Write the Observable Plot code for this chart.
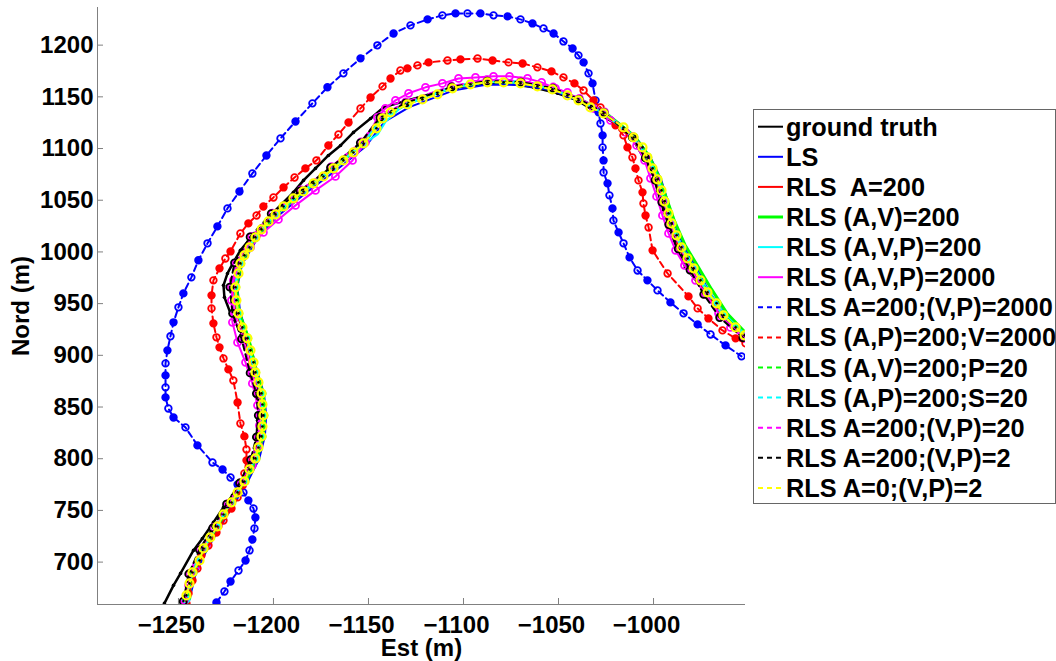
<!DOCTYPE html>
<html>
<head>
<meta charset="utf-8">
<script src="https://cdn.jsdelivr.net/npm/d3@7"></script>
<script src="https://cdn.jsdelivr.net/npm/@observablehq/plot@0.6"></script>
<style>
  html, body { margin: 0; padding: 0; background: #fff; }
  #wrap { position: relative; width: 1056px; height: 661px; overflow: hidden; }
  #legend { position: absolute; left: 753px; top: 109px; }
</style>
</head>
<body>
<div id="wrap"><div id="chart"></div><div id="legend"></div></div>
<script>
// ---------- data ----------
const xTicks = [-1250, -1200, -1150, -1100, -1050, -1000];
const yTicks = [700, 750, 800, 850, 900, 950, 1000, 1050, 1100, 1150, 1200];
const xDomain = [-1292.6, -951.6];
const yDomain = [659, 1236.4];

const legendNames = [
  "ground truth", "LS", "RLS  A=200", "RLS (A,V)=200", "RLS (A,V,P)=200", "RLS (A,V,P)=2000",
  "RLS A=200;(V,P)=2000", "RLS (A,P)=200;V=2000", "RLS (A,V)=200;P=20", "RLS (A,P)=200;S=20",
  "RLS A=200;(V,P)=20", "RLS A=200;(V,P)=2", "RLS A=0;(V,P)=2"
];

const groundTruth = [[-1257.4,660.1],[-1252.6,677.5],[-1248.9,689.1],[-1242.1,711.3],[-1237.4,722.9],[-1231.6,738.4],[-1226.3,752.9],[-1221.6,764.5],[-1217.4,777.1],[-1213.2,788.7],[-1210.5,801.3],[-1208.9,817.7],[-1208.4,837.0],[-1207.9,849.6],[-1208.4,871.0],[-1210.5,892.2],[-1213.2,907.7],[-1218.0,925.0],[-1222.6,940.6],[-1225.8,956.1],[-1226.3,967.7],[-1224.2,979.2],[-1221.1,989.9],[-1217.4,1001.5],[-1212.1,1013.2],[-1206.8,1023.7],[-1201.6,1035.3],[-1195.3,1046.9],[-1189.5,1057.6],[-1184.2,1069.2],[-1177.9,1080.8],[-1171.1,1093.3],[-1164.7,1103.0],[-1157.9,1115.6],[-1148.9,1129.1],[-1142.1,1139.8],[-1129.5,1146.6],[-1115.8,1153.4],[-1103.2,1159.2],[-1087.4,1163.0],[-1076.8,1163.0],[-1063.2,1159.2],[-1050.5,1153.4],[-1040.0,1146.6],[-1031.6,1136.9],[-1021.1,1125.2],[-1017.4,1120.4],[-1010.5,1107.8],[-1005.3,1091.4],[-1000.5,1075.9],[-997.9,1059.5],[-994.7,1040.2],[-991.1,1020.9],[-987.4,1001.5],[-983.2,985.1],[-976.8,970.5],[-971.1,956.1],[-964.7,943.5],[-957.9,931.0],[-951.6,920.3]];

const lsSolid = [[-1244.5,662],[-1241,688],[-1235,712],[-1228,734],[-1220.5,757],[-1213.5,778],[-1207.5,800],[-1204.5,822],[-1203.8,842],[-1205,863],[-1208.5,884],[-1213,916],[-1217.5,941],[-1219,966],[-1216.5,988],[-1208.5,1013],[-1197.5,1035],[-1183,1057],[-1167,1079],[-1151.5,1102],[-1141.5,1126],[-1128.5,1140],[-1105.5,1156],[-1087.5,1162],[-1070,1161.5],[-1053,1156],[-1039,1146],[-1025,1133],[-1009,1110],[-1001.5,1091],[-996,1070],[-992.5,1049],[-989,1028],[-984,1005],[-977.5,985],[-970.5,961],[-962,939],[-951.6,920]];

const rlsA = [[-1246.5,662],[-1243,689],[-1237.5,712],[-1230,734],[-1223,757],[-1216,778],[-1210,800],[-1207,822],[-1206,842],[-1207,863],[-1210.5,884],[-1214.5,916],[-1219.5,941],[-1221,966],[-1218.5,989],[-1210.5,1014],[-1199.5,1036],[-1185,1058],[-1169,1081],[-1153.5,1105],[-1143,1130],[-1129,1144],[-1105.5,1159.5],[-1087,1165],[-1069.5,1164],[-1053,1158],[-1039.5,1147.5],[-1026.5,1135],[-1011,1111],[-1004,1091],[-998.5,1070],[-995,1049],[-991.5,1027],[-986.5,1003],[-980,983],[-972.5,960],[-964,938],[-952,918.5]];

const rlsAV = [[-1245,664],[-1242,690],[-1236,713],[-1229,735],[-1221.5,758],[-1214.5,778.5],[-1208.5,800.5],[-1205.5,822],[-1204.5,842],[-1205.5,863],[-1209,883.5],[-1213,916],[-1218,941],[-1219.5,966],[-1217,989.5],[-1209,1015],[-1198.5,1037],[-1183.5,1059.5],[-1167.5,1082],[-1152,1106],[-1142,1131],[-1129,1144],[-1105.5,1159.5],[-1087.5,1165],[-1070,1164.5],[-1053,1158.5],[-1039,1148],[-1025.5,1135],[-1010,1112],[-1002.5,1093],[-997,1072],[-993,1051],[-989,1030],[-983.5,1007],[-977,987],[-969.5,964],[-961.5,941],[-951.6,922]];

const rlsAVP200 = [[-1246,663],[-1243,690],[-1237,713],[-1230,735],[-1222.5,758],[-1215.5,778],[-1209.5,800],[-1206.5,822],[-1205.5,842],[-1206.5,863],[-1210,883.5],[-1214,916],[-1219,941],[-1220.5,966],[-1218,989],[-1210,1014],[-1199.5,1036],[-1184.5,1058.5],[-1168.5,1081],[-1153,1104],[-1145,1114],[-1141,1126],[-1131,1143],[-1106,1160],[-1087.5,1166],[-1070,1165],[-1053,1159],[-1039.5,1148.5],[-1026,1135.5],[-1010.5,1112],[-1003,1092.5],[-997.5,1071],[-994,1050],[-990.5,1028.5],[-985,1005],[-978.5,985],[-971,962],[-962.5,939.5],[-951.6,920]];

const rlsAVP2000 = [[-1246.8,660.1],[-1244.7,677.5],[-1240.5,696.9],[-1235.3,716.1],[-1228.9,735.5],[-1222.6,754.9],[-1216.3,774.2],[-1211.1,793.6],[-1207.9,812.9],[-1207.4,832.2],[-1208.4,851.6],[-1211.1,872.8],[-1214.7,893.2],[-1218.9,912.5],[-1221.6,931.9],[-1222.1,953.2],[-1221.1,972.5],[-1217.4,989.9],[-1212.1,1004.4],[-1205.3,1018.9],[-1197.4,1031.4],[-1188.4,1045.0],[-1177.9,1059.5],[-1167.4,1073.0],[-1158.4,1088.5],[-1151.6,1105.9],[-1145.3,1130.1],[-1141.1,1138.8],[-1135.8,1146.6],[-1128.9,1153.4],[-1120.0,1159.2],[-1111.1,1163.0],[-1102.6,1167.8],[-1093.7,1168.8],[-1084.2,1169.8],[-1075.8,1169.8],[-1066.3,1167.8],[-1058.9,1164.0],[-1051.6,1158.2],[-1045.3,1154.3],[-1039.5,1147.5],[-1031.6,1138.8],[-1022.6,1127.2],[-1014.7,1115.6],[-1008.9,1103.0],[-1004.7,1088.5],[-1001.6,1071.2],[-998.4,1053.7],[-995.3,1035.3],[-992.1,1017.9],[-988.4,1001.5],[-983.7,987.0],[-977.9,972.5],[-972.6,959.0],[-965.8,940.6],[-959.5,927.0],[-952.1,916.4]];

const blueDash = [[-1230.0,661.0],[-1225.8,671.6],[-1222.6,681.3],[-1218.4,691.9],[-1214.7,701.6],[-1212.6,711.3],[-1211.1,721.9],[-1210.0,732.6],[-1209.5,743.2],[-1210.5,751.9],[-1213.2,759.7],[-1215.8,767.4],[-1218.9,775.1],[-1222.6,781.9],[-1226.8,789.6],[-1232.1,796.4],[-1240.0,812.9],[-1246.3,830.3],[-1252.6,839.9],[-1255.3,848.6],[-1256.8,859.3],[-1256.8,869.0],[-1256.8,880.6],[-1256.8,892.2],[-1255.8,904.8],[-1254.2,918.4],[-1252.6,931.9],[-1250.0,946.4],[-1247.4,959.9],[-1243.2,975.4],[-1239.5,991.9],[-1234.7,1008.3],[-1229.5,1024.7],[-1224.2,1042.1],[-1217.9,1058.5],[-1211.1,1075.9],[-1203.7,1093.3],[-1196.3,1109.8],[-1188.4,1126.2],[-1179.5,1143.7],[-1171.6,1159.2],[-1163.2,1172.7],[-1154.2,1187.2],[-1145.3,1199.8],[-1136.8,1211.3],[-1127.9,1219.1],[-1118.9,1224.9],[-1111.1,1228.8],[-1104.2,1230.7],[-1097.9,1230.7],[-1091.1,1230.7],[-1084.2,1228.8],[-1076.8,1227.8],[-1070.0,1224.9],[-1063.7,1221.0],[-1057.9,1216.2],[-1052.6,1211.3],[-1047.4,1203.6],[-1042.6,1196.8],[-1039.5,1190.1],[-1036.8,1183.3],[-1034.2,1172.7],[-1032.1,1163.0],[-1030.5,1146.6],[-1028.9,1135.0],[-1027.9,1124.3],[-1026.8,1112.7],[-1026.8,1101.1],[-1026.3,1088.5],[-1026.3,1076.9],[-1024.2,1066.3],[-1023.2,1054.7],[-1021.6,1042.1],[-1021.1,1030.5],[-1018.4,1018.9],[-1015.8,1008.3],[-1012.6,994.7],[-1008.4,982.1],[-1003.2,972.5],[-997.9,962.8],[-991.1,951.2],[-984.2,940.6],[-976.8,929.9],[-970.0,920.2],[-962.1,909.6],[-953.7,899.0]];

const redDash = [[-1245.8,660.1],[-1244.7,669.7],[-1242.6,682.3],[-1240.0,693.9],[-1237.9,706.5],[-1234.2,716.1],[-1230.0,728.7],[-1226.3,740.3],[-1222.1,751.9],[-1218.9,762.6],[-1216.3,774.2],[-1215.3,785.8],[-1214.2,798.4],[-1214.2,809.0],[-1215.3,821.6],[-1217.4,834.1],[-1218.9,854.4],[-1221.1,875.7],[-1223.7,886.4],[-1226.3,897.0],[-1228.4,907.7],[-1230.0,917.4],[-1231.6,930.9],[-1232.6,945.4],[-1232.6,958.0],[-1231.6,972.5],[-1228.4,984.1],[-1225.3,993.7],[-1222.6,1000.5],[-1217.4,1017.9],[-1213.2,1027.6],[-1208.9,1035.3],[-1205.3,1044.0],[-1200.0,1052.7],[-1194.7,1062.4],[-1188.9,1072.0],[-1183.2,1080.8],[-1177.4,1088.5],[-1171.1,1103.0],[-1165.8,1113.6],[-1160.5,1125.2],[-1154.2,1138.8],[-1148.9,1149.4],[-1142.6,1160.1],[-1138.4,1167.8],[-1133.2,1175.5],[-1129.5,1177.5],[-1124.2,1180.4],[-1118.4,1183.3],[-1108.4,1185.2],[-1101.6,1186.2],[-1092.6,1187.1],[-1084.7,1185.2],[-1076.3,1183.3],[-1068.9,1182.3],[-1061.1,1178.5],[-1053.7,1174.6],[-1047.4,1168.8],[-1041.6,1163.0],[-1036.8,1156.2],[-1031.6,1146.6],[-1027.9,1139.8],[-1020.0,1122.4],[-1015.8,1112.7],[-1013.7,1101.1],[-1011.1,1091.4],[-1009.5,1080.8],[-1007.9,1069.2],[-1005.8,1057.6],[-1005.3,1046.9],[-1004.2,1035.3],[-1002.6,1023.7],[-1000.5,1001.5],[-992.6,979.2],[-981.6,957.0],[-976.8,945.4],[-971.1,935.7],[-963.7,924.1],[-956.8,916.4],[-951.6,911.6]];

const greenDash = [[-1245.5,666],[-1242.3,690],[-1236.5,713],[-1229.3,734.5],[-1222,757.5],[-1215,778],[-1209.2,800],[-1206,821.5],[-1205,842],[-1206,863],[-1209.3,883.5],[-1213.5,916.5],[-1218.2,940.5],[-1219.8,966],[-1217.2,989],[-1209.3,1014],[-1198.7,1036.5],[-1184,1058.5],[-1168.2,1081],[-1152.5,1105],[-1142.5,1129.5],[-1129.3,1143],[-1105.7,1158.5],[-1087.3,1164.3],[-1070,1163.3],[-1053.2,1157.5],[-1039.3,1147],[-1026,1134.3],[-1010.3,1111],[-1003,1091.6],[-997.7,1070.5],[-994,1049.2],[-990.3,1028],[-985,1004.7],[-978.6,984.5],[-971.3,961.2],[-963,939],[-952,919.6]];

const cyanDash = [[-1246,664],[-1242.8,689.5],[-1237,712.8],[-1229.8,734.2],[-1222.4,757.4],[-1215.6,777.8],[-1209.8,800.2],[-1206.6,821.5],[-1205.6,842],[-1206.6,863.2],[-1209.8,883.6],[-1214,916.3],[-1218.7,940.5],[-1220.3,965.7],[-1217.7,988.8],[-1209.8,1014],[-1199.2,1036.2],[-1184.5,1058.4],[-1168.7,1080.7],[-1152.9,1104.8],[-1143,1129],[-1129.8,1142.6],[-1106,1158.4],[-1087.5,1164.4],[-1070,1163.5],[-1053.3,1157.6],[-1039.6,1147],[-1026.4,1134.4],[-1010.7,1110.9],[-1003.4,1091.5],[-998.1,1070.2],[-994.4,1048.8],[-990.7,1027.5],[-985.5,1004.2],[-979.1,983.9],[-971.8,960.7],[-963.4,938.4],[-952.2,919]];

const magentaDash = [[-1247,663],[-1244,689],[-1238.5,712.5],[-1231.5,733.5],[-1224,756.5],[-1217,777],[-1211.5,799.5],[-1208.3,821],[-1207.3,842],[-1208.3,863],[-1211.5,883],[-1216,916],[-1220.6,940.5],[-1222.2,966],[-1219.6,989.5],[-1211.5,1015],[-1200.5,1037.5],[-1185.5,1060],[-1169.5,1082.5],[-1153.8,1106.5],[-1143.8,1131],[-1130.5,1145],[-1106.5,1160.5],[-1087.7,1166.5],[-1069.8,1165.5],[-1052.8,1159.5],[-1039,1148.5],[-1025.8,1135.5],[-1010.8,1111.5],[-1004,1091.5],[-998.8,1070],[-995.2,1048.5],[-991.5,1027],[-986.5,1003.5],[-980.2,983],[-973,959.5],[-964.6,937],[-952.5,917.5]];

const blackDash = [[-1247.5,662],[-1244.6,688.5],[-1239,712],[-1232,733],[-1224.7,756],[-1217.8,776.5],[-1212,799],[-1209,821],[-1208,842],[-1209,863],[-1212.3,883],[-1216.8,916],[-1221.5,940.5],[-1223,966],[-1220.5,989.5],[-1212.3,1014.5],[-1201.2,1037],[-1186,1059],[-1170,1081.5],[-1154.3,1105.5],[-1144,1130],[-1130.5,1144],[-1106.2,1159.5],[-1087.5,1165.2],[-1069.8,1164.2],[-1052.9,1158.3],[-1039.2,1147.6],[-1026,1134.8],[-1011.2,1110.8],[-1004.3,1091],[-999.2,1069.5],[-995.6,1048],[-992,1026.5],[-987,1003],[-980.8,982.5],[-973.6,959],[-965.2,936.5],[-953,917]];

const yellowDash = [[-1245.8,667.8],[-1244.2,679.4],[-1242.6,690.0],[-1238.9,701.6],[-1236.8,713.2],[-1233.2,723.9],[-1229.5,734.5],[-1226.3,746.1],[-1222.1,757.7],[-1218.9,767.4],[-1215.3,778.0],[-1212.6,789.6],[-1209.5,800.3],[-1207.9,810.9],[-1206.3,821.6],[-1205.8,831.2],[-1205.3,841.9],[-1205.8,852.5],[-1206.3,863.2],[-1207.9,873.8],[-1209.5,883.5],[-1210.5,893.2],[-1212.1,904.8],[-1213.7,916.4],[-1216.3,927.0],[-1218.4,940.6],[-1219.5,953.2],[-1220.0,965.8],[-1218.4,979.2],[-1217.4,988.9],[-1215.3,996.7],[-1212.6,1004.4],[-1209.5,1014.1],[-1206.3,1021.8],[-1202.6,1029.5],[-1198.9,1036.3],[-1194.7,1044.0],[-1189.5,1051.8],[-1184.2,1058.5],[-1178.9,1066.3],[-1173.7,1073.0],[-1168.4,1080.8],[-1163.2,1088.5],[-1157.9,1096.2],[-1152.6,1104.9],[-1145.8,1119.5],[-1142.6,1129.1],[-1138.4,1134.9],[-1129.5,1142.7],[-1121.6,1147.5],[-1113.7,1152.4],[-1105.8,1158.2],[-1096.3,1162.1],[-1087.4,1164.0],[-1078.9,1164.0],[-1070.0,1163.0],[-1061.1,1160.1],[-1053.2,1157.2],[-1045.3,1151.4],[-1039.5,1146.6],[-1033.2,1139.8],[-1026.3,1134.0],[-1015.8,1120.4],[-1010.5,1110.7],[-1005.8,1101.1],[-1003.2,1091.4],[-1000.5,1080.8],[-997.9,1070.2],[-995.8,1059.5],[-994.2,1048.9],[-992.1,1037.3],[-990.5,1027.6],[-987.9,1016.1],[-985.3,1004.4],[-982.1,993.7],[-978.9,984.1],[-975.3,972.5],[-971.6,960.9],[-966.8,950.3],[-963.2,938.7],[-956.8,927.0],[-952.1,919.3]];

// ---------- styling table (built from the arrays above) ----------
const seriesDefs = [
  {pts: groundTruth, color: "#000000", dash: null, width: 2.5, marker: "dot"},
  {pts: lsSolid,     color: "#0000ff", dash: null, width: 2,   marker: null},
  {pts: rlsA,        color: "#ff0000", dash: null, width: 2,   marker: null},
  {pts: rlsAV,       color: "#00ff00", dash: null, width: 3,   marker: null},
  {pts: rlsAVP200,   color: "#00ffff", dash: null, width: 2,   marker: null},
  {pts: rlsAVP2000,  color: "#ff00ff", dash: null, width: 2,   marker: "ring"},
  {pts: blueDash,    color: "#0000ff", dash: "6,4", width: 2,  marker: "mixed"},
  {pts: redDash,     color: "#ff0000", dash: "6,4", width: 2,  marker: "mixed"},
  {pts: greenDash,   color: "#00ff00", dash: "6,4", width: 2,  marker: "ring"},
  {pts: cyanDash,    color: "#00ffff", dash: "6,4", width: 2,  marker: "ring"},
  {pts: magentaDash, color: "#ff00ff", dash: "6,4", width: 2,  marker: "ring"},
  {pts: blackDash,   color: "#000000", dash: "6,4", width: 2,  marker: "ring"},
  {pts: yellowDash,  color: "#ffff00", dash: "6,4", width: 2,  marker: "yellow"}
];

const FONT = "'Liberation Sans', Arial, Helvetica, sans-serif";
const W = 1056, H = 661;
const mL = 97, mR = 311, mT = 7, mB = 57;
const innerW = W - mL - mR, innerH = H - mT - mB;
const axisGray = "#808080";

const marks = [
  Plot.ruleX([xDomain[0]], {stroke: axisGray, strokeWidth: 1}),
  Plot.ruleY([yDomain[0]], {stroke: axisGray, strokeWidth: 1}),
  Plot.tickX(xTicks, {x: d => d, stroke: axisGray, insetTop: innerH - 6}),
  Plot.tickY(yTicks, {y: d => d, stroke: axisGray, insetRight: innerW - 6}),
  Plot.axisX({ticks: xTicks, tickSize: 0, tickPadding: 11, dx: -7, tickFormat: d => (d < 0 ? "\u2212" : "") + Math.abs(d),
    label: null, fill: "#000"}),
  Plot.axisY({ticks: yTicks, tickSize: 0, tickPadding: 4, tickFormat: d => String(d),
    label: "Nord (m)", labelAnchor: "center", labelArrow: "none", labelOffset: 86, fill: "#000"}),
  Plot.text(["Est (m)"], {text: d => d, frameAnchor: "bottom", lineAnchor: "bottom", dy: 51,
    fontSize: 24, fontWeight: "bold", fill: "#000"})
];

seriesDefs.forEach(s => {
  const rows = s.pts.map(([x, y], i) => ({x, y, i}));
  marks.push(Plot.line(rows, {x: "x", y: "y", stroke: s.color, strokeWidth: s.width,
    strokeDasharray: s.dash || undefined, clip: true, strokeLinejoin: "round"}));
  if (s.marker === "dot") {
    marks.push(Plot.dot(rows, {x: "x", y: "y", r: 1.8, fill: s.color, stroke: null, clip: true}));
  } else if (s.marker === "ring") {
    marks.push(Plot.dot(rows, {x: "x", y: "y", r: 3.5, fill: "none", stroke: s.color, strokeWidth: 1.8, clip: true}));
  } else if (s.marker === "mixed") {
    marks.push(Plot.dot(rows, {x: "x", y: "y", r: 3.3, fill: d => d.i % 2 === 0 ? s.color : "none",
      stroke: s.color, strokeWidth: 1.8, clip: true}));
  } else if (s.marker === "yellow") {
    marks.push(Plot.dot(rows, {x: "x", y: "y", r: 4, fill: "none", stroke: s.color, strokeWidth: 2.2, clip: true}));
    marks.push(Plot.dot(rows, {x: "x", y: "y", r: 1.3, fill: "#000", stroke: null, clip: true}));
  }
});

const chart = Plot.plot({
  width: W, height: H,
  marginLeft: mL, marginRight: mR, marginTop: mT, marginBottom: mB,
  x: {domain: xDomain},
  y: {domain: yDomain},
  style: {fontFamily: FONT, fontSize: "24px", fontWeight: "bold", background: "#fff", color: "#000", overflow: "visible"},
  marks
});
document.getElementById("chart").appendChild(chart);

// ---------- legend ----------
const lgW = 302, lgH = 394, rowH = 30.1, row0 = 17.7;
const lg = d3.select("#legend").append("svg").attr("width", lgW + 2).attr("height", lgH + 2)
  .style("font-family", FONT).style("font-weight", "bold").style("font-size", "25.3px");
lg.append("rect").attr("x", 0.5).attr("y", 0.5).attr("width", lgW).attr("height", lgH)
  .attr("fill", "#fff").attr("stroke", "#666").attr("stroke-width", 1);
legendNames.forEach((name, i) => {
  const s = seriesDefs[i];
  const cy = row0 + i * rowH;
  lg.append("line").attr("x1", 5).attr("x2", 30).attr("y1", cy).attr("y2", cy)
    .attr("stroke", s.color).attr("stroke-width", s.width === 3 ? 3 : 2)
    .attr("stroke-dasharray", s.dash ? "5,4" : null);
  lg.append("text").attr("x", 33).attr("y", cy + 9).attr("fill", "#000")
    .attr("xml:space", "preserve").style("white-space", "pre").text(name);
});
</script>
</body>
</html>
